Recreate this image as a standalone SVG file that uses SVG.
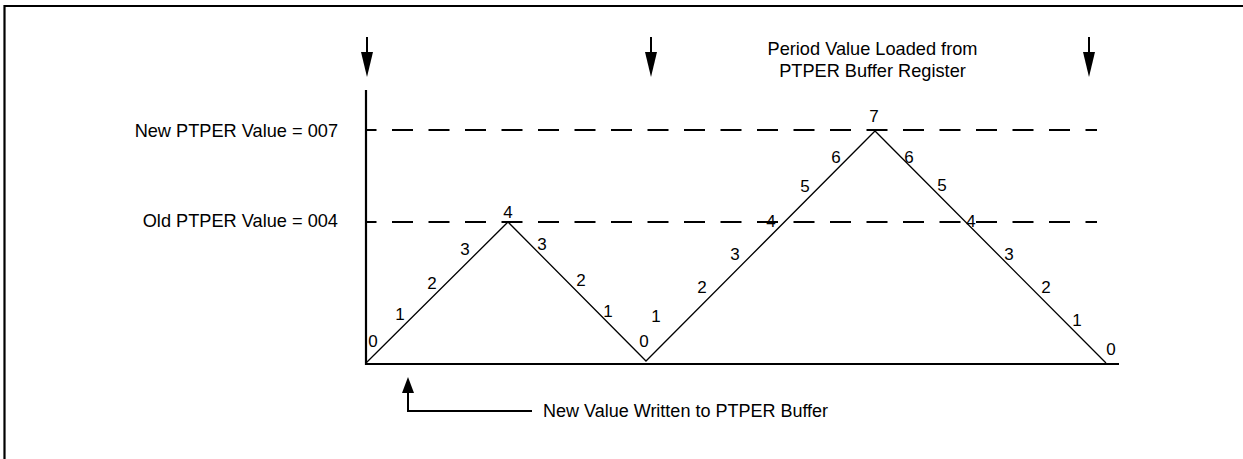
<svg xmlns="http://www.w3.org/2000/svg" width="1243" height="459" viewBox="0 0 1243 459">
<style>
text{font-family:"Liberation Sans",Arial,sans-serif;font-size:18.2px;fill:#000}
.lbl{text-anchor:end}
.mid{text-anchor:middle}
.small{font-size:18px}
.num{text-anchor:middle;font-size:17px}
.axis{stroke:#000;stroke-width:2.2;fill:none}
.dash{stroke:#000;stroke-width:2;stroke-dasharray:21 15.5;stroke-dashoffset:10.5;fill:none}
.wave{stroke:#000;stroke-width:1.3;fill:none;stroke-linejoin:miter}
.arr{stroke:#000;stroke-width:2;fill:none}
.head{fill:#000}
</style>
<rect width="1243" height="459" fill="#fff"/>
<g id="frame">
<path d="M4.5 459 V6 H1243" fill="none" stroke="#000" stroke-width="2.2"/>
</g>
<g id="axes">
<path class="axis" d="M366 90 V364 H1119"/>
</g>
<g id="levels">
<line class="dash" x1="366" y1="130" x2="1097" y2="130"/>
<line class="dash" x1="366" y1="222" x2="1097" y2="222"/>
<text class="lbl" x="338" y="137">New PTPER Value = 007</text>
<text class="lbl" x="338" y="227">Old PTPER Value = 004</text>
</g>
<g id="waveform">
<polyline class="wave" points="366,363 508,222 646,361 875,131 1106,363"/>
</g>
<g id="counts">
<text class="num" x="373" y="347">0</text>
<text class="num" x="400" y="320">1</text>
<text class="num" x="432" y="289">2</text>
<text class="num" x="465" y="255">3</text>
<text class="num" x="508" y="218">4</text>
<text class="num" x="542" y="250">3</text>
<text class="num" x="581" y="286">2</text>
<text class="num" x="608" y="317">1</text>
<text class="num" x="644" y="347">0</text>
<text class="num" x="656" y="322">1</text>
<text class="num" x="702" y="293">2</text>
<text class="num" x="735" y="260">3</text>
<text class="num" x="771" y="227">4</text>
<text class="num" x="805" y="192">5</text>
<text class="num" x="836" y="163">6</text>
<text class="num" x="874" y="122">7</text>
<text class="num" x="909" y="163">6</text>
<text class="num" x="942" y="191">5</text>
<text class="num" x="971" y="227">4</text>
<text class="num" x="1009" y="260">3</text>
<text class="num" x="1046" y="293">2</text>
<text class="num" x="1077" y="326">1</text>
<text class="num" x="1111" y="355">0</text>
</g>
<g id="reload-markers">
<line class="arr" x1="367" y1="37" x2="367" y2="55"/>
<polygon class="head" points="361,52 373,52 367,77"/>
<line class="arr" x1="651" y1="37" x2="651" y2="55"/>
<polygon class="head" points="645,52 657,52 651,77"/>
<line class="arr" x1="1089" y1="37" x2="1089" y2="55"/>
<polygon class="head" points="1083,52 1095,52 1089,77"/>
<text class="mid" x="872.5" y="55">Period Value Loaded from</text>
<text class="mid" x="872.5" y="77">PTPER Buffer Register</text>
</g>
<g id="write-marker">
<path class="arr" d="M408 390 V411 H532"/>
<polygon class="head" points="402,393 414,393 408,377"/>
<text class="small" x="543" y="417">New Value Written to PTPER Buffer</text>
</g>
</svg>
